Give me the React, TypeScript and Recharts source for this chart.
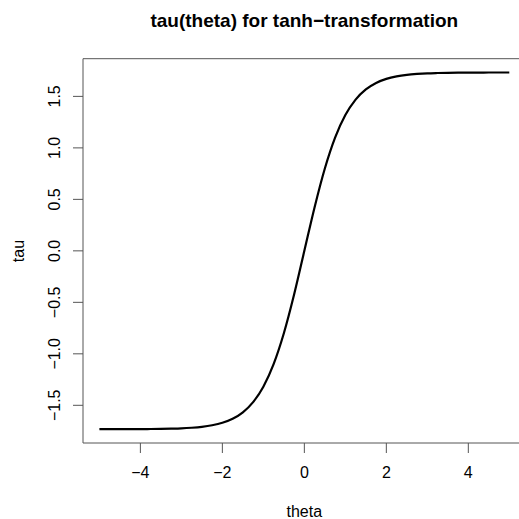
import { Line, LineChart, ReferenceArea, XAxis, YAxis } from 'recharts';

// theta grid and tau values
const THETA = [
    -5, -4.75, -4.5, -4.25, -4, -3.75, -3.5, -3.25, -3, -2.75, -2.5, -2.25, -2, -1.75, -1.5, -1.25, -1, -0.75, -0.5, -0.25,
    0, 0.25, 0.5, 0.75, 1, 1.25, 1.5, 1.75, 2, 2.25, 2.5, 2.75, 3, 3.25, 3.5, 3.75, 4, 4.25, 4.5, 4.75, 5,
];
const TAU = [
    -1.732, -1.732, -1.732, -1.731, -1.731, -1.730, -1.729, -1.727, -1.724, -1.718, -1.709, -1.694, -1.670, -1.631, -1.568, -1.469, -1.319, -1.100, -0.800, -0.424,
    0, 0.424, 0.800, 1.100, 1.319, 1.469, 1.568, 1.631, 1.670, 1.694, 1.709, 1.718, 1.724, 1.727, 1.729, 1.730, 1.731, 1.731, 1.732, 1.732, 1.732,
];
const X_TICKS = [-4, -2, 0, 2, 4];
const Y_TICKS = [-1.5, -1.0, -0.5, 0.0, 0.5, 1.0, 1.5];

const TITLE = 'tau(theta) for tanh\u2212transformation';
const X_LABEL = 'theta';
const Y_LABEL = 'tau';

const FONT = '"Liberation Sans", Arial, Helvetica, sans-serif';
const AXIS_COLOR = '#555';

const data = THETA.map((t, i) => ({ theta: t, tau: TAU[i] }));

const fmt = (v: number, digits: number) => (v < 0 ? '\u2212' : '') + Math.abs(v).toFixed(digits);

const XTick = ({ x, payload }: { x?: number; payload?: { value: number } }) => (
    <text x={x} y={477.5} textAnchor="middle" fontFamily={FONT} fontSize={16} fill="#000">
        {fmt(payload?.value ?? 0, 0)}
    </text>
);

const YTick = ({ y, payload }: { y?: number; payload?: { value: number } }) => (
    <text
        x={60.5}
        y={y}
        transform={`rotate(-90, 60.5, ${y})`}
        textAnchor="middle"
        fontFamily={FONT}
        fontSize={16}
        fill="#000"
    >
        {fmt(payload?.value ?? 0, 1)}
    </text>
);

export default function App() {
    return (
        <div style={{ position: 'absolute', left: 0, top: 0, width: 519, height: 519, overflow: 'hidden', background: '#fff' }}>
            <LineChart width={527} height={519} data={data} margin={{ top: 58.7, right: 1.3, left: 0, bottom: 0 }}>
                <XAxis
                    dataKey="theta"
                    type="number"
                    domain={[-5.4, 5.4]}
                    ticks={X_TICKS}
                    height={76}
                    axisLine={false}
                    tickLine={{ stroke: AXIS_COLOR }}
                    tickSize={10}
                    tick={<XTick />}
                    allowDataOverflow
                />
                <YAxis
                    type="number"
                    domain={[-1.866, 1.866]}
                    ticks={Y_TICKS}
                    width={83}
                    axisLine={false}
                    tickLine={{ stroke: AXIS_COLOR }}
                    tickSize={10}
                    tick={<YTick />}
                    allowDataOverflow
                />
                <ReferenceArea
                    x1={-5.4}
                    x2={5.4}
                    y1={-1.866}
                    y2={1.866}
                    fill="none"
                    fillOpacity={0}
                    stroke={AXIS_COLOR}
                    strokeWidth={1}
                    ifOverflow="visible"
                />
                <Line
                    dataKey="tau"
                    type="monotone"
                    stroke="#000"
                    strokeWidth={2.2}
                    dot={false}
                    isAnimationActive={false}
                />
            </LineChart>
            <svg width={519} height={519} style={{ position: 'absolute', left: 0, top: 0, pointerEvents: 'none' }}>
                <text x={304.3} y={27} textAnchor="middle" fontFamily={FONT} fontWeight="bold" fontSize={19}>
                    {TITLE}
                </text>
                <text x={304.3} y={516.5} textAnchor="middle" fontFamily={FONT} fontSize={16}>
                    {X_LABEL}
                </text>
                <text x={23.5} y={251} transform="rotate(-90, 23.5, 251)" textAnchor="middle" fontFamily={FONT} fontSize={16}>
                    {Y_LABEL}
                </text>
            </svg>
        </div>
    );
}
